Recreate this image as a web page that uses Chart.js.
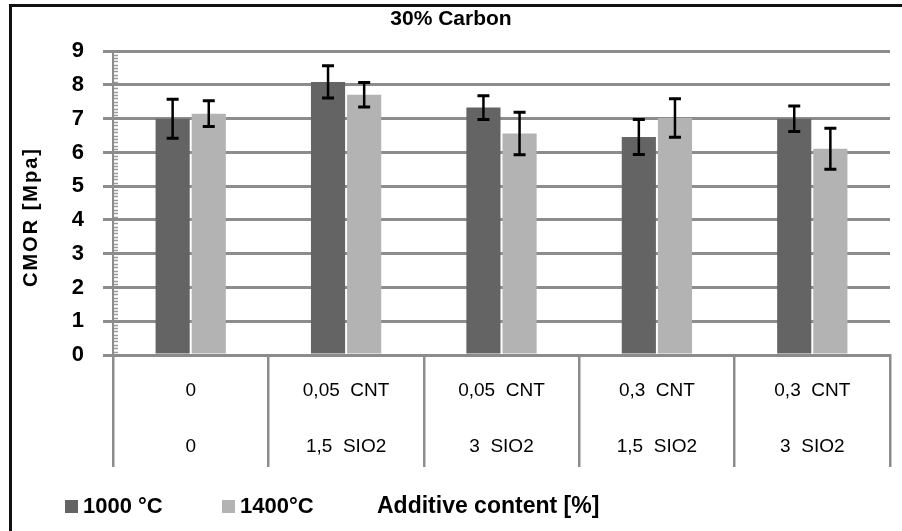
<!DOCTYPE html>
<html>
<head>
<meta charset="utf-8">
<script src="https://cdn.jsdelivr.net/npm/chart.js@4"></script>
<style>
  html, body { margin: 0; padding: 0; background: #fff; overflow: hidden; }
  #wrap { position: relative; width: 902px; height: 531px; overflow: hidden; }
  #frame { position: absolute; left: 9px; top: 4px; width: 900px; height: 540px; border-top: 3px solid #111; border-left: 3px solid #111; }
  canvas { position: absolute; left: 0; top: 0; }
</style>
</head>
<body>
<div id="wrap">
  <div id="frame"></div>
  <canvas id="myChart" width="902" height="531"></canvas>
</div>
<script>
// values
const categories = [
  ['0', '0'],
  ['0,05  CNT', '1,5  SIO2'],
  ['0,05  CNT', '3  SIO2'],
  ['0,3  CNT', '1,5  SIO2'],
  ['0,3  CNT', '3  SIO2'],
];
const values1000 = [7.0, 8.09, 7.33, 6.46, 7.0];
const values1400 = [7.15, 7.71, 6.56, 7.02, 6.11];
const err1000 = [0.58, 0.48, 0.35, 0.52, 0.38];
const err1400 = [0.38, 0.36, 0.63, 0.57, 0.61];

const grey = '#8c8c8c';

// error bars, drawn at each bar through the y scale
const errorBars = {
  id: 'errorBars',
  afterDatasetsDraw(chart) {
    const ctx = chart.ctx;
    const y = chart.scales.y;
    chart.data.datasets.forEach((ds, i) => {
      chart.getDatasetMeta(i).data.forEach((bar, j) => {
        const top = y.getPixelForValue(ds.data[j] + ds.errors[j]);
        const bot = y.getPixelForValue(ds.data[j] - ds.errors[j]);
        ctx.save();
        ctx.strokeStyle = '#000';
        ctx.lineWidth = 2.5;
        ctx.beginPath();
        ctx.moveTo(bar.x, top);
        ctx.lineTo(bar.x, bot);
        ctx.stroke();
        ctx.lineWidth = 3;
        ctx.beginPath();
        ctx.moveTo(bar.x - 6, top);
        ctx.lineTo(bar.x + 6, top);
        ctx.moveTo(bar.x - 6, bot);
        ctx.lineTo(bar.x + 6, bot);
        ctx.stroke();
        ctx.restore();
      });
    });
  },
};

// small minor ticks on the y axis, titles and legend row
const extras = {
  id: 'extras',
  beforeDatasetsDraw(chart) {
    const ctx = chart.ctx;
    const y = chart.scales.y;
    const left = chart.chartArea.left;
    ctx.save();
    ctx.strokeStyle = '#9a9a9a';
    ctx.lineWidth = 1.5;
    for (let k = 1; k < 90; k++) {
      if (k % 10 === 0) continue;
      const py = Math.round(y.getPixelForValue(k / 10)) + 0.5;
      ctx.beginPath();
      ctx.moveTo(left + 1, py);
      ctx.lineTo(left + 5, py);
      ctx.stroke();
    }
    ctx.restore();
  },
  afterDraw(chart) {
    const ctx = chart.ctx;
    ctx.save();
    ctx.fillStyle = '#000';
    // y axis title
    ctx.font = 'bold 20px "Liberation Sans"';
    ctx.letterSpacing = '2px';
    ctx.textAlign = 'center';
    ctx.textBaseline = 'middle';
    ctx.translate(31, 217);
    ctx.rotate(-Math.PI / 2);
    ctx.fillText('CMOR [Mpa]', 0, 0);
    ctx.restore();

    ctx.save();
    ctx.textBaseline = 'middle';
    const ly = 507;
    const items = [[65, 0], [222, 1]];
    items.forEach(([x, i]) => {
      const ds = chart.data.datasets[i];
      ctx.fillStyle = ds.backgroundColor;
      ctx.fillRect(x, ly - 7, 13, 13);
      ctx.fillStyle = '#000';
      ctx.font = 'bold 22px "Liberation Sans"';
      ctx.textAlign = 'left';
      ctx.fillText(ds.label, x + 18, ly);
    });
    ctx.font = 'bold 23px "Liberation Sans"';
    ctx.textAlign = 'left';
    ctx.fillText('Additive content [%]', 377, ly);
    ctx.restore();
  },
};

Chart.defaults.font.family = '"Liberation Sans", Arial, sans-serif';
Chart.defaults.color = '#000';

const ctx = document.getElementById('myChart').getContext('2d');
const myChart = new Chart(ctx, {
  type: 'bar',
  data: {
    labels: categories,
    datasets: [
      {
        label: '1000 °C',
        data: values1000,
        errors: err1000,
        backgroundColor: '#646464',
        categoryPercentage: 0.465,
        barPercentage: 0.945,
      },
      {
        label: '1400°C',
        data: values1400,
        errors: err1400,
        backgroundColor: '#b3b3b3',
        categoryPercentage: 0.465,
        barPercentage: 0.945,
      },
    ],
  },
  options: {
    responsive: false,
    animation: false,
    layout: { padding: { top: 6, left: 12, right: 12, bottom: 0 } },
    plugins: {
      legend: { display: false },
      tooltip: { enabled: false },
      title: {
        display: true,
        text: '30% Carbon',
        font: { size: 21, weight: 'bold' },
        padding: { top: 1, bottom: 19 },
      },
    },
    scales: {
      y: {
        min: 0,
        max: 9,
        ticks: { stepSize: 1, padding: 19, font: { size: 22, weight: 'bold' } },
        grid: { color: grey, lineWidth: 3, tickLength: 10 },
        border: { color: grey, width: 2 },
        afterFit(scale) { scale.width = 101; },
      },
      x: {
        ticks: {
          maxRotation: 0,
          autoSkip: false,
          padding: -104,
          font: { size: 19, lineHeight: '56px' },
        },
        grid: { offset: true, drawOnChartArea: false, color: grey, lineWidth: 2.5, tickLength: 112 },
        border: { color: grey, width: 3 },
        afterFit(scale) { scale.height = 176; },
      },
    },
  },
  plugins: [errorBars, extras],
});
</script>
</body>
</html>
